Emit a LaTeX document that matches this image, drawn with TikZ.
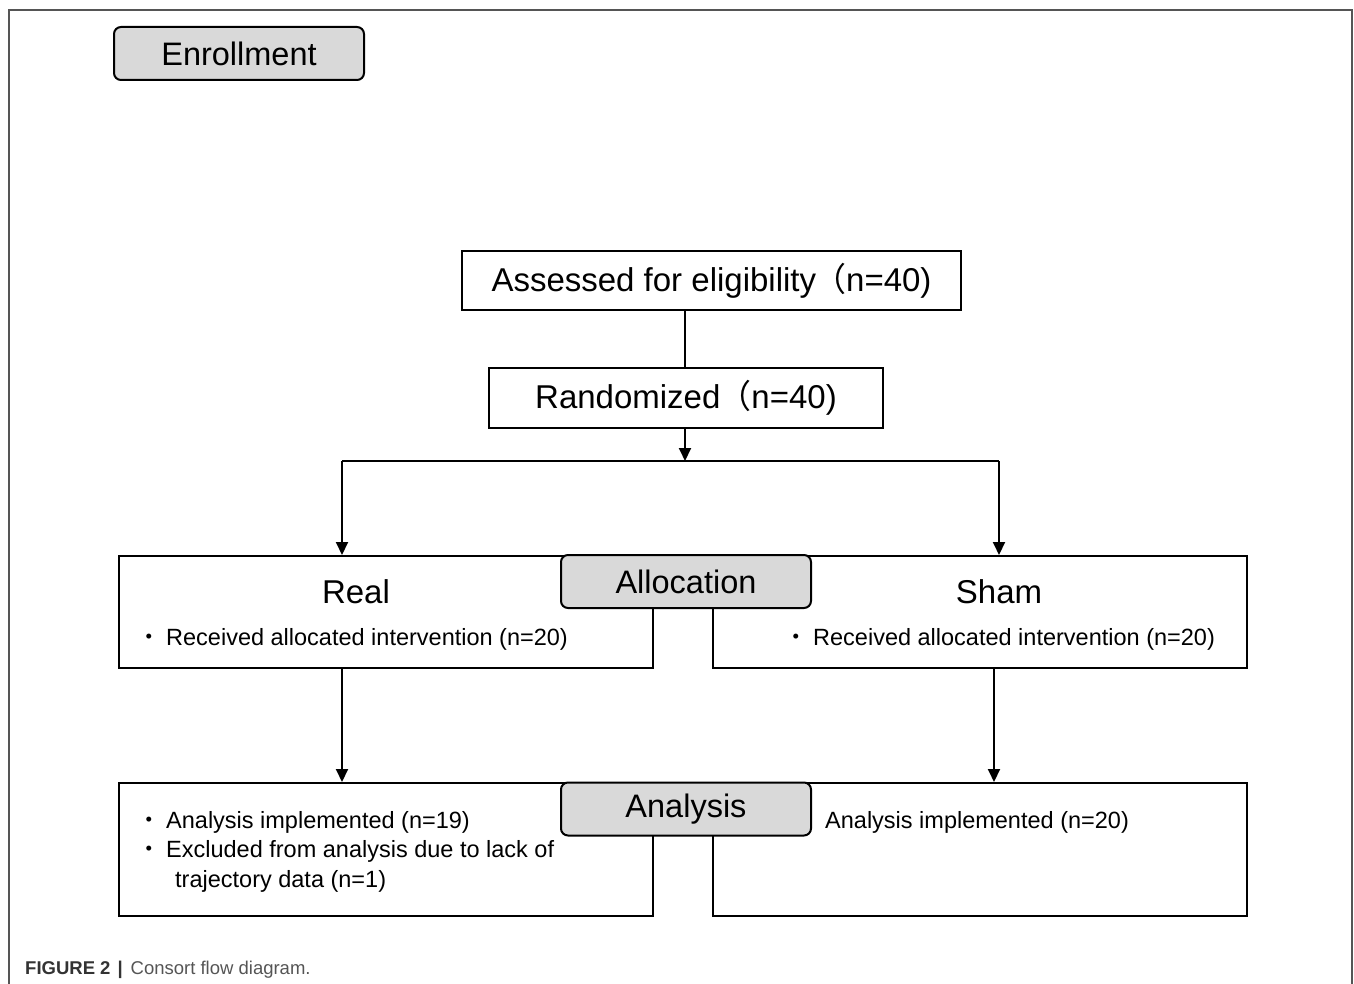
\documentclass[tikz,border=0pt]{standalone}
\usepackage{fontspec}
\setmainfont{Liberation Sans}
\newfontfamily\cjk{Noto Sans CJK SC}
\usetikzlibrary{arrows.meta}
\definecolor{lblgray}{HTML}{D9D9D9}
\definecolor{framegray}{HTML}{555555}
\definecolor{capdark}{HTML}{333333}
\definecolor{capgray}{HTML}{555555}
\begin{document}
\begin{tikzpicture}[x=1pt,y=-1pt,
  box/.style={draw=black,line width=2pt,fill=white,inner sep=0pt,rectangle},
  lbl/.style={draw=black,line width=2pt,fill=lblgray,rounded corners=7pt,inner sep=0pt,
    minimum width=250pt,minimum height=53pt,font=\fontsize{32.5}{38}\selectfont},
  big/.style={font=\fontsize{33}{38}\selectfont,inner sep=0pt},
  txt/.style={font=\fontsize{23.5}{28}\selectfont,inner sep=0pt,anchor=base west},
  arr/.style={line width=2pt,-{Triangle[length=13pt,width=12pt]}},
  ln/.style={line width=2pt}]
\useasboundingbox (0,0) rectangle (1354,984);
\fill[white] (0,0) rectangle (1354,984);
\draw[framegray,line width=1.5pt] (9,984) -- (9,10) -- (1352,10) -- (1352,984);

% main boxes
\node[box,minimum width=499pt,minimum height=59pt,font=\fontsize{33}{38}\selectfont] (assess) at (711.5,280.5)
  {Assessed for eligibility{\cjk\hspace{-3pt}（}n=40)\hspace{8pt}};
\node[box,minimum width=394pt,minimum height=60pt,font=\fontsize{33}{38}\selectfont] (rand) at (686,398)
  {Randomized{\cjk\hspace{-2pt}（}n=40)};
\node[box,minimum width=534pt,minimum height=112pt] (real) at (386,612) {};
\node[box,minimum width=534pt,minimum height=112pt] (sham) at (980,612) {};
\node[box,minimum width=534pt,minimum height=133pt] (anl) at (386,849.5) {};
\node[box,minimum width=534pt,minimum height=133pt] (anr) at (980,849.5) {};

% label boxes
\node[lbl] (enroll) at (239,53.5) {Enrollment};
\node[lbl] (alloc) at (686,581.5) {Allocation};
\node[lbl] (analysis) at (686,809) {Analysis};

% texts in boxes
\node[big,anchor=base] (realt) at (356,603.5) {Real};
\node[big,anchor=base] (shamt) at (999,603.5) {Sham};
\node[txt] (rb) at (137,645) {\cjk ・};
\node[txt] (rt) at (166,645) {Received allocated intervention (n=20)};
\node[txt] (sb) at (784,645) {\cjk ・};
\node[txt] (st) at (813,645) {Received allocated intervention (n=20)};
\node[txt] (ab1) at (137,828) {\cjk ・};
\node[txt] (at1) at (166,828) {Analysis implemented (n=19)};
\node[txt] (ab2) at (137,857) {\cjk ・};
\node[txt] (at2) at (166,857) {Excluded from analysis due to lack of};
\node[txt] (at3) at (175,887) {trajectory data (n=1)};
\node[txt] (art) at (825,828) {Analysis implemented (n=20)};

% connectors
\coordinate (split) at (685,461);
\coordinate (L) at (342,461);
\coordinate (R) at (999,461);
\coordinate (L2) at (342,668);
\coordinate (R2) at (994,668);
\draw[ln] (assess.south -| split) -- (rand.north -| split);
\draw[arr] (rand.south -| split) -- (split);
\draw[ln] (L) -- (R);
\draw[arr] (L) -- (L |- real.north);
\draw[arr] (R) -- (R |- sham.north);
\draw[arr] (L2) -- (L2 |- anl.north);
\draw[arr] (R2) -- (R2 |- anr.north);

% caption
\node[anchor=base west,inner sep=0pt,font=\fontsize{18.5}{22}\selectfont] (cap) at (25,974)
  {\textcolor{capdark}{\textbf{FIGURE 2}\hspace{7pt}\textbf{|}}\hspace{8pt}\textcolor{capgray}{Consort flow diagram.}};
\end{tikzpicture}
\end{document}
